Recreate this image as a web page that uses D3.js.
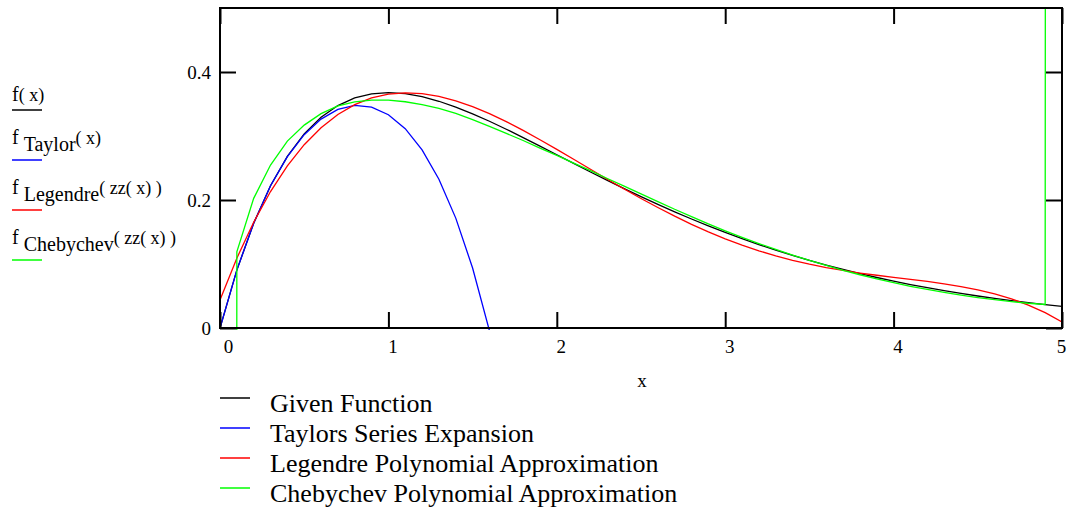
<!DOCTYPE html>
<html>
<head>
<meta charset="utf-8">
<script src="https://cdn.jsdelivr.net/npm/d3@7"></script>
<style>
  body { margin: 0; background: #fff; }
  svg text, svg tspan { font-family: "Liberation Serif", "Times New Roman", serif !important; fill: #000; }
</style>
</head>
<body>
<svg id="chart"></svg>
<script>
// x samples used by every trace (range variable x = 0, 0.1 .. 5)
const xValues = [0, 0.1, 0.2, 0.3, 0.4, 0.5, 0.6, 0.7, 0.8, 0.9,
  1.0, 1.1, 1.2, 1.3, 1.4, 1.5, 1.6, 1.7, 1.8, 1.9,
  2.0, 2.1, 2.2, 2.3, 2.4, 2.5, 2.6, 2.7, 2.8, 2.9,
  3.0, 3.1, 3.2, 3.3, 3.4, 3.5, 3.6, 3.7, 3.8, 3.9,
  4.0, 4.1, 4.2, 4.3, 4.4, 4.5, 4.6, 4.7, 4.8, 4.9, 5.0]

const givenValues = [0, 0.0905, 0.1637, 0.2222, 0.2681, 0.3033, 0.3293, 0.3476, 0.3595, 0.3659,
  0.3679, 0.3662, 0.3614, 0.3543, 0.3452, 0.3347, 0.3230, 0.3106, 0.2975, 0.2842,
  0.2707, 0.2572, 0.2438, 0.2306, 0.2177, 0.2052, 0.1931, 0.1815, 0.1703, 0.1596,
  0.1494, 0.1397, 0.1304, 0.1217, 0.1135, 0.1057, 0.0984, 0.0915, 0.0850, 0.0789,
  0.0733, 0.0679, 0.0630, 0.0583, 0.0540, 0.0500, 0.0462, 0.0427, 0.0395, 0.0365, 0.0337]

// taylor trace leaves the plot just after x = 1.6
const taylorValues = [0, 0.0905, 0.1637, 0.2222, 0.2677, 0.3021, 0.3264, 0.3415, 0.3477, 0.3452,
  0.3333, 0.3115, 0.2784, 0.2325, 0.1717, 0.0938, -0.0043, -0.1255]

const legendreValues = [0.0439, 0.1091, 0.1653, 0.2132, 0.2533, 0.2864, 0.3130, 0.3337, 0.3490, 0.3594,
  0.3654, 0.3675, 0.3662, 0.3619, 0.3550, 0.3458, 0.3349, 0.3224, 0.3087, 0.2942,
  0.2791, 0.2636, 0.2480, 0.2325, 0.2172, 0.2024, 0.1882, 0.1747, 0.1620, 0.1502,
  0.1394, 0.1295, 0.1206, 0.1127, 0.1058, 0.0997, 0.0944, 0.0899, 0.0859, 0.0824,
  0.0791, 0.0760, 0.0727, 0.0691, 0.0648, 0.0597, 0.0534, 0.0455, 0.0358, 0.0239, 0.0094]

// chebychev blows up at both ends of the interval
const chebychevValues = [-50, 0.119, 0.2026, 0.2546, 0.292, 0.317, 0.335, 0.347, 0.3533, 0.3559,
  0.3562, 0.3535, 0.349, 0.3433, 0.3352, 0.3257, 0.3150, 0.3041, 0.2930, 0.2812,
  0.2697, 0.2577, 0.2458, 0.2336, 0.2217, 0.2097, 0.1976, 0.1855, 0.1741, 0.1626,
  0.1519, 0.1417, 0.1319, 0.1227, 0.1140, 0.1057, 0.0977, 0.0902, 0.0832, 0.0767,
  0.0708, 0.0652, 0.0602, 0.0555, 0.0513, 0.0476, 0.0442, 0.0412, 0.0387, 0.0368, 50]

const xTicks = [0, 1, 2, 3, 4, 5]
const yTicks = [0, 0.2, 0.4]

const traceColors = ['#000000', '#0000ff', '#ff0000', '#00ff00']
const legendNames = ['Given Function', 'Taylors Series Expansion',
  'Legendre Polynomial Approximation', 'Chebychev Polynomial Approximation']
const traceSubs = ['', 'Taylor', 'Legendre', 'Chebychev']
const traceArgs = ['( x)', '( x)', '( zz( x) )', '( zz( x) )']

const serif = '"Liberation Serif", "Times New Roman", serif'

class FunctionPlot {
    constructor(_config) {
        this.config = {
            parentElement: _config.parentElement,
            containerWidth: _config.containerWidth || 1067,
            containerHeight: _config.containerHeight || 510,
            plot: {left: 220, right: 1062, top: 8, bottom: 328},
            tickLength: 16
        }
        this.initVis()
    }

    initVis() {
        let vis = this
        let p = vis.config.plot

        vis.svg = d3.select(vis.config.parentElement)
            .attr('width', vis.config.containerWidth)
            .attr('height', vis.config.containerHeight)

        vis.xScale = d3.scaleLinear().domain([0, 5]).range([p.left, p.right])
        vis.yScale = d3.scaleLinear().domain([0, 0.5]).range([p.bottom, p.top])

        vis.svg.append('defs').append('clipPath')
            .attr('id', 'plot-clip')
          .append('rect')
            .attr('x', p.left)
            .attr('y', p.top)
            .attr('width', p.right - p.left)
            .attr('height', p.bottom - p.top + 2)

        vis.traces = [givenValues, taylorValues, legendreValues, chebychevValues]
            .map((vals, i) => ({
                color: traceColors[i],
                points: vals.map((v, j) => ({x: xValues[j], y: v}))
            }))

        vis.renderVis()
    }

    renderVis() {
        let vis = this
        let p = vis.config.plot
        let tl = vis.config.tickLength

        let line = d3.line()
            .x(d => vis.xScale(d.x))
            .y(d => vis.yScale(d.y))

        vis.svg.append('g')
            .attr('clip-path', 'url(#plot-clip)')
          .selectAll('.trace')
          .data(vis.traces)
          .join('path')
            .attr('class', 'trace')
            .attr('fill', 'none')
            .attr('stroke', d => d.color)
            .attr('stroke-width', 1.3)
            .attr('d', d => line(d.points))

        // axes, ticks pointing inward on all four sides
        let xAxisG = vis.svg.append('g')
            .attr('transform', `translate(0,${p.bottom})`)
            .call(d3.axisBottom(vis.xScale).tickValues(xTicks).tickSize(-tl).tickPadding(12)
                .tickFormat(d3.format('d')))
        xAxisG.selectAll('text')
            .attr('dx', d => d === 0 ? 8 : d === 5 ? -1 : 4)

        vis.svg.append('g')
            .attr('transform', `translate(0,${p.top})`)
            .call(d3.axisTop(vis.xScale).tickValues(xTicks).tickSize(-tl).tickFormat(''))

        vis.svg.append('g')
            .attr('transform', `translate(${p.left},0)`)
            .call(d3.axisLeft(vis.yScale).tickValues(yTicks).tickSize(-tl).tickPadding(9)
                .tickFormat(d => d === 0 ? '0' : d3.format('.1f')(d)))

        vis.svg.append('g')
            .attr('transform', `translate(${p.right},0)`)
            .call(d3.axisRight(vis.yScale).tickValues(yTicks).tickSize(-tl).tickFormat(''))

        vis.svg.selectAll('.domain').remove()
        vis.svg.selectAll('.tick line').attr('stroke', '#000').attr('stroke-width', 2)
        vis.svg.selectAll('.tick text')
            .style('font-family', serif)
            .style('font-size', '19px')
            .attr('fill', '#000')

        vis.svg.append('rect')
            .attr('x', p.left)
            .attr('y', p.top)
            .attr('width', p.right - p.left)
            .attr('height', p.bottom - p.top)
            .attr('fill', 'none')
            .attr('stroke', '#000')
            .attr('stroke-width', 2)

        vis.svg.append('text')
            .attr('x', 642)
            .attr('y', 387)
            .attr('text-anchor', 'middle')
            .style('font-family', serif)
            .style('font-size', '19px')
            .text('x')

        // trace names on the left, Mathcad style
        let rows = vis.svg.selectAll('.trace-name')
            .data(traceSubs)
            .join('g')
            .attr('class', 'trace-name')
            .attr('transform', (d, i) => `translate(12,${i === 0 ? 100.5 : 94 + i * 50})`)

        rows.append('line')
            .attr('x1', 0).attr('x2', 30)
            .attr('y1', (d, i) => i === 0 ? 9.5 : 16)
            .attr('y2', (d, i) => i === 0 ? 9.5 : 16)
            .attr('stroke', (d, i) => traceColors[i])
            .attr('stroke-width', 1.5)

        let label = rows.append('text')
            .attr('xml:space', 'preserve')
            .style('font-family', serif)
        label.append('tspan')
            .style('font-size', '20px')
            .text('f')
        label.filter(d => d !== '').append('tspan')
            .style('font-size', '20px')
            .attr('dx', 5)
            .attr('dy', 7)
            .text(d => d)
        label.append('tspan')
            .style('font-size', '18px')
            .attr('dy', d => d === '' ? 0 : -7)
            .text((d, i) => traceArgs[i])

        // bottom legend
        let legend = vis.svg.selectAll('.legend-row')
            .data(legendNames)
            .join('g')
            .attr('class', 'legend-row')
            .attr('transform', (d, i) => `translate(220,${398 + i * 30})`)

        legend.append('line')
            .attr('x1', 0).attr('x2', 30)
            .attr('stroke', (d, i) => traceColors[i])
            .attr('stroke-width', 1.5)

        legend.append('text')
            .attr('x', 50)
            .attr('y', 13.5)
            .style('font-family', serif)
            .style('font-size', '26px')
            .text(d => d)
    }
}

new FunctionPlot({parentElement: '#chart'})
</script>
</body>
</html>
